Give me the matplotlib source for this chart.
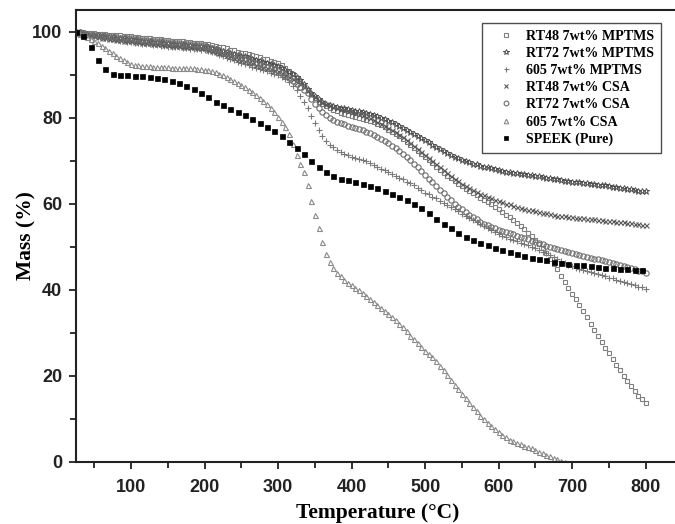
import matplotlib
matplotlib.use("Agg")
import matplotlib.pyplot as plt
from matplotlib.ticker import MultipleLocator

# ---------------- data ----------------
temp_dense = list(range(25, 805, 5))      # 25 .. 800 °C
temp_605csa = list(range(25, 695, 5))     # 25 .. 690 °C
temp_speek = list(range(25, 805, 10))     # 25 .. 795 °C

rt48_mptms = [
    100.0, 99.9, 99.9, 99.8, 99.8, 99.7, 99.6, 99.5, 99.5, 99.4,
    99.3, 99.2, 99.2, 99.1, 99.0, 99.0, 98.9, 98.8, 98.7, 98.6,
    98.5, 98.4, 98.4, 98.3, 98.2, 98.1, 98.0, 97.9, 97.9, 97.8,
    97.7, 97.6, 97.5, 97.5, 97.4, 97.3, 97.1, 96.9, 96.8, 96.6,
    96.4, 96.2, 95.9, 95.7, 95.4, 95.2, 95.0, 94.8, 94.6, 94.3,
    94.1, 93.8, 93.6, 93.3, 93.1, 92.8, 92.3, 91.7, 91.0, 90.2,
    89.4, 88.5, 87.5, 86.5, 85.5, 84.6, 83.8, 83.2, 82.7, 82.2,
    81.8, 81.5, 81.2, 80.9, 80.7, 80.5, 80.3, 80.1, 79.8, 79.6,
    79.3, 79.0, 78.7, 78.3, 77.8, 77.3, 76.8, 76.3, 75.7, 75.1,
    74.5, 73.8, 73.1, 72.4, 71.7, 71.0, 70.2, 69.5, 68.7, 68.0,
    67.3, 66.6, 66.0, 65.3, 64.7, 64.1, 63.5, 63.0, 62.5, 62.0,
    61.5, 61.0, 60.4, 59.9, 59.3, 58.8, 58.2, 57.5, 56.9, 56.2,
    55.5, 54.8, 54.1, 53.3, 52.5, 51.6, 50.7, 49.8, 48.5, 47.2,
    46.0, 44.8, 43.3, 41.8, 40.5, 39.1, 37.8, 36.5, 35.0, 33.6,
    32.2, 30.7, 29.3, 27.9, 26.6, 25.3, 24.0, 22.6, 21.3, 19.9,
    18.8, 17.7, 16.6, 15.4, 14.6, 13.8,
]

rt72_mptms = [
    100.0, 99.9, 99.7, 99.6, 99.4, 99.3, 99.2, 99.1, 99.0, 98.9,
    98.8, 98.7, 98.6, 98.5, 98.4, 98.3, 98.2, 98.1, 98.0, 97.9,
    97.8, 97.7, 97.7, 97.6, 97.5, 97.4, 97.3, 97.2, 97.2, 97.1,
    97.0, 96.9, 96.8, 96.8, 96.7, 96.6, 96.4, 96.2, 96.0, 95.8,
    95.6, 95.3, 95.1, 94.9, 94.7, 94.5, 94.3, 94.0, 93.8, 93.5,
    93.3, 93.0, 92.8, 92.5, 92.3, 92.0, 91.6, 91.1, 90.7, 90.2,
    89.5, 88.8, 87.8, 86.8, 85.9, 85.0, 84.3, 83.7, 83.3, 82.9,
    82.7, 82.5, 82.3, 82.2, 82.0, 81.9, 81.7, 81.5, 81.3, 81.1,
    80.9, 80.6, 80.4, 80.1, 79.7, 79.4, 79.0, 78.6, 78.2, 77.7,
    77.3, 76.8, 76.3, 75.8, 75.3, 74.8, 74.3, 73.8, 73.3, 72.8,
    72.3, 71.9, 71.4, 71.0, 70.7, 70.3, 70.0, 69.7, 69.4, 69.2,
    68.9, 68.7, 68.5, 68.3, 68.1, 67.9, 67.7, 67.5, 67.4, 67.2,
    67.1, 67.0, 66.9, 66.8, 66.7, 66.6, 66.4, 66.3, 66.1, 66.0,
    65.8, 65.7, 65.6, 65.4, 65.3, 65.2, 65.1, 65.0, 64.9, 64.8,
    64.7, 64.6, 64.5, 64.4, 64.3, 64.1, 64.0, 63.9, 63.8, 63.6,
    63.5, 63.4, 63.3, 63.1, 63.0, 62.9,
]

mptms_605 = [
    100.0, 99.8, 99.6, 99.4, 99.2, 99.0, 98.9, 98.7, 98.6, 98.4,
    98.3, 98.2, 98.0, 97.9, 97.7, 97.6, 97.5, 97.4, 97.3, 97.2,
    97.1, 97.0, 96.9, 96.8, 96.7, 96.6, 96.5, 96.4, 96.4, 96.3,
    96.2, 96.1, 96.0, 96.0, 95.9, 95.8, 95.6, 95.3, 95.0, 94.7,
    94.4, 94.0, 93.7, 93.4, 93.1, 92.8, 92.5, 92.2, 91.9, 91.6,
    91.4, 91.1, 90.8, 90.5, 90.3, 90.0, 89.5, 89.0, 88.3, 87.5,
    86.5, 85.0, 83.6, 82.2, 80.5, 78.8, 77.2, 75.8, 74.6, 73.8,
    73.2, 72.6, 72.1, 71.7, 71.3, 71.0, 70.7, 70.5, 70.2, 69.9,
    69.5, 69.1, 68.6, 68.2, 67.8, 67.4, 66.9, 66.5, 66.1, 65.7,
    65.2, 64.8, 64.3, 63.7, 63.2, 62.6, 62.2, 61.7, 61.3, 60.8,
    60.3, 59.8, 59.3, 58.8, 58.3, 57.7, 57.2, 56.7, 56.2, 55.7,
    55.3, 54.8, 54.3, 53.9, 53.4, 53.0, 52.6, 52.3, 51.9, 51.6,
    51.3, 51.0, 50.7, 50.4, 50.0, 49.7, 49.3, 48.9, 48.5, 48.1,
    47.6, 47.2, 46.8, 46.3, 45.9, 45.5, 45.2, 44.9, 44.7, 44.4,
    44.2, 43.9, 43.7, 43.4, 43.2, 42.9, 42.7, 42.4, 42.1, 41.8,
    41.6, 41.3, 41.1, 40.8, 40.6, 40.3,
]

rt48_csa = [
    99.8, 99.6, 99.5, 99.3, 99.2, 99.0, 98.9, 98.7, 98.6, 98.4,
    98.3, 98.2, 98.1, 98.0, 97.9, 97.8, 97.7, 97.6, 97.5, 97.4,
    97.4, 97.3, 97.2, 97.1, 97.0, 96.9, 96.8, 96.8, 96.7, 96.6,
    96.6, 96.5, 96.4, 96.3, 96.3, 96.2, 95.9, 95.6, 95.4, 95.1,
    94.8, 94.6, 94.3, 94.0, 93.8, 93.5, 93.2, 92.9, 92.7, 92.4,
    92.1, 91.8, 91.6, 91.3, 91.1, 90.8, 90.4, 89.9, 89.5, 89.0,
    88.4, 87.8, 87.1, 86.4, 85.6, 84.8, 84.2, 83.6, 83.2, 82.9,
    82.6, 82.4, 82.1, 81.9, 81.6, 81.4, 81.1, 80.9, 80.6, 80.3,
    79.9, 79.5, 79.1, 78.7, 78.2, 77.7, 77.2, 76.7, 76.1, 75.5,
    74.8, 74.2, 73.5, 72.8, 72.1, 71.4, 70.7, 70.0, 69.3, 68.6,
    67.9, 67.2, 66.6, 65.9, 65.3, 64.7, 64.2, 63.7, 63.3, 62.8,
    62.4, 62.0, 61.7, 61.3, 61.0, 60.6, 60.4, 60.1, 59.9, 59.6,
    59.4, 59.1, 58.9, 58.7, 58.5, 58.3, 58.1, 57.9, 57.8, 57.6,
    57.5, 57.3, 57.2, 57.1, 57.0, 56.9, 56.8, 56.7, 56.7, 56.6,
    56.5, 56.4, 56.3, 56.2, 56.1, 56.1, 56.0, 55.9, 55.8, 55.7,
    55.6, 55.5, 55.4, 55.3, 55.2, 55.1,
]

rt72_csa = [
    100.0, 99.9, 99.7, 99.6, 99.4, 99.3, 99.2, 99.1, 99.1, 99.0,
    98.9, 98.8, 98.7, 98.7, 98.6, 98.5, 98.4, 98.3, 98.2, 98.1,
    98.0, 98.0, 97.9, 97.8, 97.7, 97.6, 97.5, 97.4, 97.4, 97.3,
    97.2, 97.1, 97.0, 97.0, 96.9, 96.8, 96.5, 96.3, 96.0, 95.7,
    95.4, 95.1, 94.8, 94.6, 94.3, 94.0, 93.7, 93.4, 93.1, 92.8,
    92.5, 92.2, 91.9, 91.6, 91.3, 91.0, 90.4, 89.8, 89.2, 88.5,
    87.9, 87.2, 86.5, 85.7, 84.5, 83.3, 82.2, 81.3, 80.6, 80.0,
    79.5, 79.1, 78.8, 78.5, 78.2, 77.9, 77.6, 77.4, 77.1, 76.8,
    76.4, 76.0, 75.6, 75.2, 74.6, 74.1, 73.5, 72.9, 72.2, 71.6,
    70.9, 70.2, 69.4, 68.5, 67.7, 66.8, 65.9, 65.0, 64.2, 63.3,
    62.5, 61.7, 60.9, 60.1, 59.4, 58.8, 58.1, 57.5, 56.9, 56.4,
    55.9, 55.4, 55.0, 54.7, 54.3, 54.0, 53.7, 53.4, 53.2, 52.9,
    52.6, 52.3, 52.1, 51.8, 51.5, 51.2, 50.9, 50.6, 50.3, 50.1,
    49.8, 49.5, 49.3, 49.0, 48.8, 48.6, 48.4, 48.1, 47.9, 47.7,
    47.5, 47.3, 47.1, 46.9, 46.7, 46.5, 46.3, 46.0, 45.8, 45.5,
    45.3, 45.0, 44.8, 44.5, 44.3, 44.0,
]

csa_605 = [
    99.8, 99.6, 99.4, 98.9, 98.4, 97.9, 97.4, 96.8, 96.2, 95.6,
    95.0, 94.4, 93.9, 93.4, 93.0, 92.6, 92.3, 92.2, 92.1, 92.0,
    92.0, 91.9, 91.9, 91.8, 91.8, 91.8, 91.7, 91.7, 91.7, 91.6,
    91.6, 91.5, 91.5, 91.4, 91.3, 91.2, 91.1, 90.9, 90.6, 90.3,
    89.9, 89.5, 89.0, 88.6, 88.1, 87.6, 87.1, 86.5, 86.0, 85.4,
    84.7, 84.0, 83.2, 82.3, 81.4, 80.3, 79.1, 77.8, 76.2, 74.0,
    71.5, 69.4, 67.5, 64.5, 60.8, 57.5, 54.5, 51.2, 48.4, 46.4,
    45.0, 44.0, 43.2, 42.4, 41.7, 41.1, 40.5, 39.9, 39.2, 38.6,
    38.0, 37.3, 36.6, 35.9, 35.2, 34.5, 33.8, 33.1, 32.2, 31.3,
    30.4, 29.4, 28.5, 27.6, 26.8, 25.9, 25.1, 24.3, 23.4, 22.4,
    21.3, 20.2, 19.1, 18.0, 16.9, 15.8, 14.8, 13.8, 12.8, 11.8,
    10.8, 9.9, 9.1, 8.3, 7.6, 6.9, 6.3, 5.7, 5.2, 4.8,
    4.4, 4.1, 3.8, 3.5, 3.2, 2.8, 2.4, 2.0, 1.6, 1.3,
    0.9, 0.6, 0.3, 0.0,
]

speek = [
    100.0, 99.0, 96.4, 93.5, 91.4, 90.3, 90.0, 89.9, 89.8, 89.7,
    89.6, 89.4, 89.0, 88.6, 88.1, 87.5, 86.7, 85.8, 84.8, 83.7,
    82.9, 82.1, 81.4, 80.7, 79.8, 78.9, 78.0, 77.0, 75.8, 74.4,
    73.1, 71.6, 70.1, 68.5, 67.4, 66.5, 65.9, 65.5, 65.2, 64.7,
    64.2, 63.6, 63.0, 62.3, 61.6, 61.0, 60.1, 59.0, 57.8, 56.6,
    55.4, 54.3, 53.3, 52.4, 51.6, 51.0, 50.5, 49.8, 49.3, 48.9,
    48.4, 48.0, 47.5, 47.2, 46.9, 46.6, 46.3, 46.1, 45.9, 45.7,
    45.5, 45.3, 45.2, 45.0, 44.9, 44.8, 44.7, 44.6,
]

labels = [
    "RT48 7wt% MPTMS",
    "RT72 7wt% MPTMS",
    "605 7wt% MPTMS",
    "RT48 7wt% CSA",
    "RT72 7wt% CSA",
    "605 7wt% CSA",
    "SPEEK (Pure)",
]

# ---------------- figure ----------------
W, H = 675, 524
fig = plt.figure(figsize=(W / 100, H / 100), dpi=100)
ax_left, ax_right, ax_top, ax_bot = 76, 678.7, 10, 462
ax = fig.add_axes([ax_left / W, 1 - ax_bot / H,
                   (ax_right - ax_left) / W, (ax_bot - ax_top) / H])

series = [
    (temp_dense, rt48_mptms, dict(marker="s", ms=3.4, mfc="none", mec="#808080", mew=0.8)),
    (temp_dense, rt72_mptms, dict(marker="*", ms=4.6, mfc="none", mec="#505050", mew=0.7)),
    (temp_dense, mptms_605, dict(marker="+", ms=4.0, mec="#7a7a7a", mew=0.8)),
    (temp_dense, rt48_csa, dict(marker="x", ms=3.6, mec="#5a5a5a", mew=0.8)),
    (temp_dense, rt72_csa, dict(marker="o", ms=3.8, mfc="none", mec="#6e6e6e", mew=0.8)),
    (temp_605csa, csa_605, dict(marker="^", ms=3.6, mfc="none", mec="#8a8a8a", mew=0.8)),
    (temp_speek, speek, dict(marker="s", ms=3.6, mfc="black", mec="black", mew=0.5)),
]

for (t, m, st), lab in zip(series, labels):
    ax.plot(t, m, linestyle="none", label=lab, **st)

ax.set_xlim(25, 845)
ax.set_ylim(0, 105.1)

ax.xaxis.set_minor_locator(MultipleLocator(50))
ax.yaxis.set_minor_locator(MultipleLocator(10))
ax.set_xticks([100, 200, 300, 400, 500, 600, 700, 800])
ax.set_yticks([0, 20, 40, 60, 80, 100])

ax.tick_params(axis="both", which="both", direction="out", top=False, right=False,
               width=1.3, color="#222222")
ax.tick_params(axis="both", which="major", length=5, pad=5)
ax.tick_params(axis="x", which="major", pad=7)
ax.tick_params(axis="both", which="minor", length=4)

for lab in ax.get_xticklabels() + ax.get_yticklabels():
    lab.set_fontfamily("Liberation Sans")
    lab.set_fontweight("bold")
    lab.set_fontsize(13)
    lab.set_color("#222222")

for sp in ax.spines.values():
    sp.set_linewidth(1.5)
    sp.set_color("#222222")

ax.set_xlabel("Temperature (°C)", fontfamily="Liberation Serif", fontweight="bold",
              fontsize=15.5, labelpad=5)
ax.set_ylabel("Mass (%)", fontfamily="Liberation Serif", fontweight="bold",
              fontsize=15.5, labelpad=-3)

leg = ax.legend(loc="upper right", bbox_to_anchor=((661 - ax_left) / (ax_right - ax_left),
                                                    (ax_bot - 22.5) / (ax_bot - ax_top)),
                borderaxespad=0, frameon=True, fancybox=False, edgecolor="#222222",
                prop=dict(family="Liberation Serif", weight="bold", size=10.1),
                labelspacing=0.3, handlelength=2.4, handletextpad=0.2,
                borderpad=0.5, markerscale=0.9)
leg.get_frame().set_linewidth(1.0)

fig.savefig("out.png", dpi=100)
